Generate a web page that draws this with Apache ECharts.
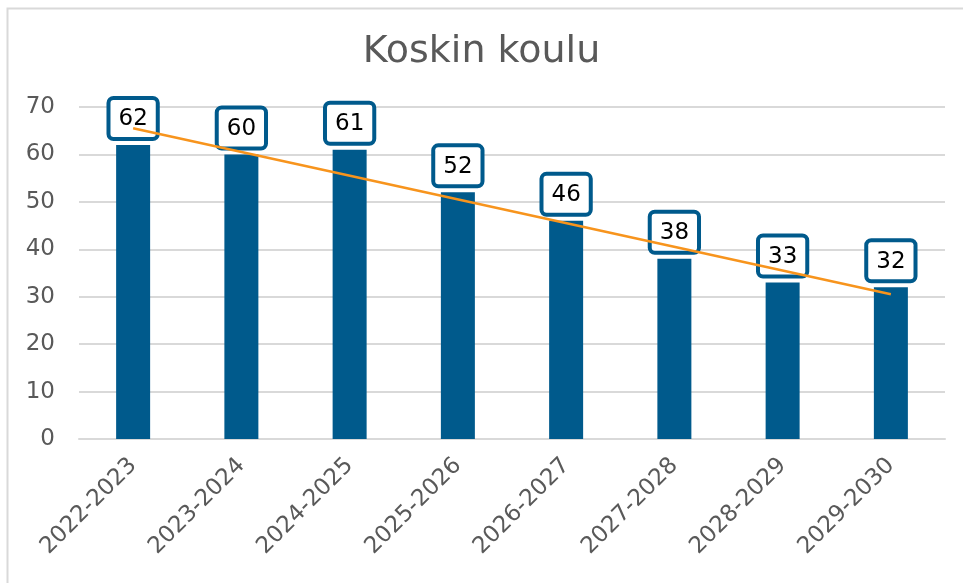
<!DOCTYPE html>
<html>
<head>
<meta charset="utf-8">
<script src="https://cdn.jsdelivr.net/npm/echarts@6/dist/echarts.min.js"></script>
<style>
  html, body { margin: 0; padding: 0; background: #fff; }
  #main { width: 963px; height: 583px; }
</style>
</head>
<body>
<div id="main"></div>
<script>
var years = ['2022-2023', '2023-2024', '2024-2025', '2025-2026', '2026-2027', '2027-2028', '2028-2029', '2029-2030'];
var pupils = [62, 60, 61, 52, 46, 38, 33, 32];
// trend line end points
var trend = [65.5, null, null, null, null, null, null, 30.5];
var yTicks = [0, 10, 20, 30, 40, 50, 60, 70];

var chart = echarts.init(document.getElementById('main'));
var font = 'DejaVu Sans, Verdana, sans-serif';

chart.setOption({
  animation: false,
  backgroundColor: '#fff',
  title: {
    text: 'Koskin koulu',
    left: 'center',
    top: 28,
    textStyle: { fontFamily: font, fontSize: 38, fontWeight: 'normal', color: '#595959' }
  },
  graphic: [{
    type: 'rect',
    shape: { x: 7.5, y: 8.5, width: 1000, height: 1000 },
    style: { fill: 'none', stroke: '#d9d9d9', lineWidth: 2 },
    silent: true
  }],
  grid: { left: 79, right: 18, top: 107, bottom: 144 },
  xAxis: {
    type: 'category',
    data: years,
    axisLine: { show: true, lineStyle: { color: '#d9d9d9', width: 2 } },
    axisTick: { show: false },
    axisLabel: { rotate: 45, margin: 23, fontFamily: font, fontSize: 23, color: '#595959' }
  },
  yAxis: {
    type: 'value',
    min: yTicks[0],
    max: yTicks[yTicks.length - 1],
    interval: 10,
    axisLine: { show: false },
    axisTick: { show: false },
    axisLabel: { margin: 24, fontFamily: font, fontSize: 23, color: '#595959' },
    splitLine: { lineStyle: { color: '#d9d9d9', width: 2 } }
  },
  series: [{
    type: 'bar',
    data: pupils,
    barWidth: 34,
    itemStyle: { color: '#005a8c' },
    label: {
      show: true,
      position: 'top',
      distance: 8,
      fontFamily: font,
      fontSize: 23,
      color: '#000',
      backgroundColor: '#fff',
      borderColor: '#005a8c',
      borderWidth: 4,
      borderRadius: 3,
      padding: [8, 8, 6, 8]
    }
  }, {
    type: 'line',
    data: trend,
    connectNulls: true,
    symbol: 'none',
    z: 5,
    lineStyle: { color: '#f7941d', width: 2.5 },
    itemStyle: { color: '#f7941d' }
  }]
});
</script>
</body>
</html>
